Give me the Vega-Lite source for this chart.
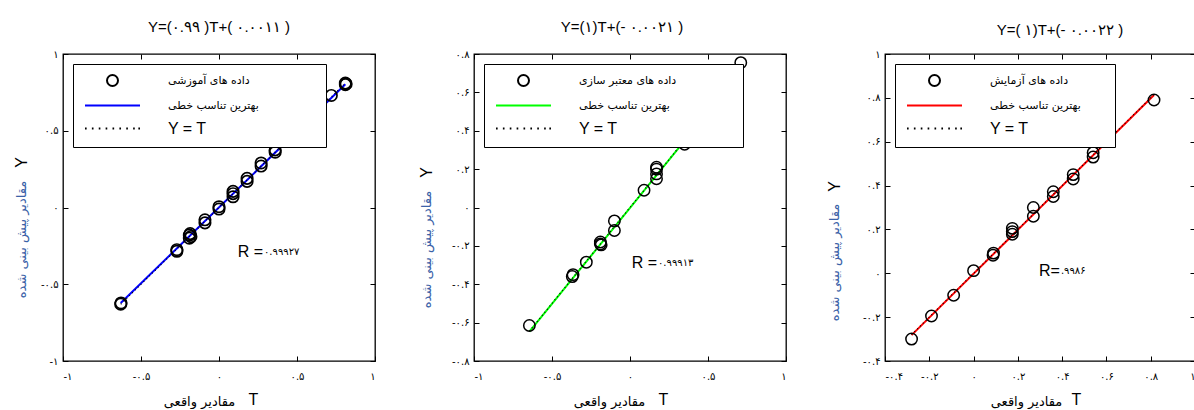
{
  "$schema": "https://vega.github.io/schema/vega-lite/v6.json",
  "background": "white",
  "padding": {"left": 12, "top": 19, "right": 0, "bottom": 0},
  "bounds": "flush",
  "spacing": 99,
  "config": {
    "view": {"stroke": "black", "strokeWidth": 1.3},
    "axis": {"grid": false, "domain": false, "tickSize": -5, "tickColor": "black", "tickWidth": 1, "labelFont": "DejaVu Sans", "labelFontSize": 10, "labelColor": "black", "titleFontWeight": "normal", "titleColor": "black"},
    "title": {"font": "Liberation Sans, DejaVu Sans", "fontSize": 15, "fontWeight": "normal", "color": "black", "anchor": "middle", "offset": 14},
    "legend": {"orient": "top-left", "offset": 10, "fillColor": "white", "strokeColor": "black", "strokeWidth": 1, "padding": 10, "symbolSize": 121, "symbolStrokeWidth": 2, "symbolOffset": 23, "labelOffset": 49, "rowPadding": 9, "labelLimit": 400, "labelFont": {"expr": "datum.label == 'Y = T' ? 'Liberation Sans' : 'DejaVu Sans'"}, "labelFontSize": {"expr": "datum.label == 'Y = T' ? 16 : 11"}, "labelColor": "black", "title": null}
  },
  "resolve": {"scale": {"color": "independent", "shape": "independent", "x": "independent", "y": "independent"}},
  "hconcat": [
    {
      "width": 312, "height": 307,
      "title": {"text": "Y=(۰.۹۹ )T+( ۰.۰۰۱۱ )"},
      "resolve": {"axis": {"x": "independent", "y": "independent"}},
      "layer": [
        {
          "data": {"values": [{"T": -0.63, "Y": -0.6226}, {"T": 0.81, "Y": 0.803}]},
          "mark": {"type": "line", "color": "#0000ff", "strokeWidth": 2},
          "encoding": {
            "x": {"field": "T", "type": "quantitative", "scale": {"domain": [-1, 1], "nice": false, "zero": false}, "axis": {"orient": "top", "labels": false, "title": null, "values": [-1, -0.5, 0, 0.5, 1]}},
            "y": {"field": "Y", "type": "quantitative", "scale": {"domain": [-1, 1], "nice": false, "zero": false}, "axis": {"orient": "right", "labels": false, "title": null, "values": [-1, -0.5, 0, 0.5, 1]}}
          }
        },
        {
          "data": {"values": [{"T": -0.63, "Y": -0.63}, {"T": 0.81, "Y": 0.81}]},
          "mark": {"type": "line", "color": "black", "strokeWidth": 1.2, "strokeDash": [1, 3]},
          "encoding": {
            "x": {"field": "T", "type": "quantitative", "scale": {"domain": [-1, 1], "nice": false, "zero": false}, "axis": {"orient": "bottom", "values": [-1, -0.5, 0, 0.5, 1], "labelPadding": 15, "labelExpr": "replace(replace(replace(replace(replace(replace(replace(''+datum.value,'0','۰'),'1','۱'),'2','۲'),'4','۴'),'5','۵'),'6','۶'),'8','۸')", "title": "T", "titleFont": "Liberation Sans", "titleFontSize": 16, "titleX": 190, "titleY": 38, "titleBaseline": "middle", "titleAlign": "center"}},
            "y": {"field": "Y", "type": "quantitative", "scale": {"domain": [-1, 1], "nice": false, "zero": false}, "axis": {"orient": "left", "values": [-1, -0.5, 0, 0.5, 1], "labelPadding": 10, "labelExpr": "replace(replace(replace(replace(replace(replace(replace(''+datum.value,'0','۰'),'1','۱'),'2','۲'),'4','۴'),'5','۵'),'6','۶'),'8','۸')", "title": "Y", "titleFont": "Liberation Sans", "titleFontSize": 16, "titleX": -42, "titleY": 108, "titleAngle": -90, "titleBaseline": "middle", "titleAlign": "center"}}
          }
        },
        {
          "data": {"values": [
            {"T": -0.63, "Y": -0.63, "series": "داده های آموزشی"},
            {"T": -0.628, "Y": -0.622, "series": "داده های آموزشی"},
            {"T": -0.27, "Y": -0.285, "series": "داده های آموزشی"},
            {"T": -0.27, "Y": -0.275, "series": "داده های آموزشی"},
            {"T": -0.19, "Y": -0.2, "series": "داده های آموزشی"},
            {"T": -0.19, "Y": -0.18, "series": "داده های آموزشی"},
            {"T": -0.185, "Y": -0.17, "series": "داده های آموزشی"},
            {"T": -0.18, "Y": -0.19, "series": "داده های آموزشی"},
            {"T": -0.09, "Y": -0.1, "series": "داده های آموزشی"},
            {"T": -0.09, "Y": -0.08, "series": "داده های آموزشی"},
            {"T": 0.0, "Y": -0.01, "series": "داده های آموزشی"},
            {"T": 0.0, "Y": 0.005, "series": "داده های آموزشی"},
            {"T": 0.09, "Y": 0.07, "series": "داده های آموزشی"},
            {"T": 0.09, "Y": 0.09, "series": "داده های آموزشی"},
            {"T": 0.09, "Y": 0.105, "series": "داده های آموزشی"},
            {"T": 0.18, "Y": 0.17, "series": "داده های آموزشی"},
            {"T": 0.18, "Y": 0.19, "series": "داده های آموزشی"},
            {"T": 0.27, "Y": 0.27, "series": "داده های آموزشی"},
            {"T": 0.27, "Y": 0.29, "series": "داده های آموزشی"},
            {"T": 0.36, "Y": 0.36, "series": "داده های آموزشی"},
            {"T": 0.36, "Y": 0.375, "series": "داده های آموزشی"},
            {"T": 0.45, "Y": 0.45, "series": "داده های آموزشی"},
            {"T": 0.54, "Y": 0.54, "series": "داده های آموزشی"},
            {"T": 0.63, "Y": 0.63, "series": "داده های آموزشی"},
            {"T": 0.72, "Y": 0.73, "series": "داده های آموزشی"},
            {"T": 0.81, "Y": 0.8, "series": "داده های آموزشی"},
            {"T": 0.81, "Y": 0.81, "series": "داده های آموزشی"},
            {"T": 0.815, "Y": 0.805, "series": "داده های آموزشی"}
          ]},
          "mark": {"type": "point", "filled": false, "size": 130, "strokeWidth": 1.7, "opacity": 1},
          "encoding": {
            "x": {"field": "T", "type": "quantitative", "scale": {"domain": [-1, 1], "nice": false, "zero": false}, "axis": {"orient": "bottom", "labels": false, "ticks": false, "domain": false, "title": "مقادیر واقعی", "titleFont": "DejaVu Sans", "titleFontSize": 13, "titleX": 136, "titleY": 40, "titleBaseline": "middle", "titleAlign": "center"}},
            "y": {"field": "Y", "type": "quantitative", "scale": {"domain": [-1, 1], "nice": false, "zero": false}, "axis": {"orient": "left", "labels": false, "ticks": false, "domain": false, "title": "مقادیر پیش بینی شده", "titleFont": "DejaVu Sans", "titleFontSize": 13, "titleColor": "#3b62a8", "titleX": -42, "titleY": 185, "titleAngle": -90, "titleBaseline": "middle", "titleAlign": "center"}},
            "color": {"field": "series", "type": "nominal", "scale": {"domain": ["داده های آموزشی", "بهترین تناسب خطی", "Y = T"], "range": ["black", "#0000ff", "black"]}, "legend": {"zindex": 1, "labelExpr": "datum.label == 'Y = T' ? datum.label : datum.label + '\u2800\u2800\u2800\u2800\u2800\u2800\u2800'"}},
            "shape": {"field": "series", "type": "nominal", "scale": {"domain": ["داده های آموزشی", "بهترین تناسب خطی", "Y = T"], "range": ["M1,0A1,1,0,1,1,-1,0A1,1,0,1,1,1,0Z", "M-5,0H5", "M-5,0h0.3M-3.75,0h0.3M-2.5,0h0.3M-1.25,0h0.3M0,0h0.3M1.25,0h0.3M2.5,0h0.3M3.75,0h0.3M4.7,0h0.3"]}, "legend": {"zindex": 1, "labelExpr": "datum.label == 'Y = T' ? datum.label : datum.label + '\u2800\u2800\u2800\u2800\u2800\u2800\u2800'"}}
          }
        },
        {
          "data": {"values": [{"T": 0.282, "Y": -0.29, "r": "R =", "v": "۰.۹۹۹۲۷"}]},
          "layer": [
            {"mark": {"type": "text", "align": "right", "baseline": "middle", "font": "Liberation Sans", "fontSize": 16, "color": "black"},
             "encoding": {"x": {"field": "T", "type": "quantitative", "scale": {"domain": [-1, 1], "nice": false, "zero": false}, "axis": null}, "y": {"field": "Y", "type": "quantitative", "scale": {"domain": [-1, 1], "nice": false, "zero": false}, "axis": null}, "text": {"field": "r"}}},
            {"mark": {"type": "text", "align": "left", "baseline": "middle", "font": "DejaVu Sans", "fontSize": 10, "color": "black", "dx": 1},
             "encoding": {"x": {"field": "T", "type": "quantitative", "scale": {"domain": [-1, 1], "nice": false, "zero": false}, "axis": null}, "y": {"field": "Y", "type": "quantitative", "scale": {"domain": [-1, 1], "nice": false, "zero": false}, "axis": null}, "text": {"field": "v"}}}
          ]
        }
      ]
    },
    {
      "width": 312, "height": 307,
      "title": {"text": "Y=(۱)T+(- ۰.۰۰۲۱ )", "dx": -8},
      "resolve": {"axis": {"x": "independent", "y": "independent"}},
      "layer": [
        {
          "data": {"values": [{"T": -0.645, "Y": -0.647}, {"T": 0.71, "Y": 0.708}]},
          "mark": {"type": "line", "color": "#00ff00", "strokeWidth": 2},
          "encoding": {
            "x": {"field": "T", "type": "quantitative", "scale": {"domain": [-1, 1], "nice": false, "zero": false}, "axis": {"orient": "top", "labels": false, "title": null, "values": [-1, -0.5, 0, 0.5, 1]}},
            "y": {"field": "Y", "type": "quantitative", "scale": {"domain": [-0.8, 0.8], "nice": false, "zero": false}, "axis": {"orient": "right", "labels": false, "title": null, "values": [-0.8, -0.6, -0.4, -0.2, 0, 0.2, 0.4, 0.6, 0.8]}}
          }
        },
        {
          "data": {"values": [{"T": -0.645, "Y": -0.645}, {"T": 0.71, "Y": 0.71}]},
          "mark": {"type": "line", "color": "black", "strokeWidth": 1.2, "strokeDash": [1, 3]},
          "encoding": {
            "x": {"field": "T", "type": "quantitative", "scale": {"domain": [-1, 1], "nice": false, "zero": false}, "axis": {"orient": "bottom", "values": [-1, -0.5, 0, 0.5, 1], "labelPadding": 15, "labelExpr": "replace(replace(replace(replace(replace(replace(replace(''+datum.value,'0','۰'),'1','۱'),'2','۲'),'4','۴'),'5','۵'),'6','۶'),'8','۸')", "title": "T", "titleFont": "Liberation Sans", "titleFontSize": 16, "titleX": 189, "titleY": 38, "titleBaseline": "middle", "titleAlign": "center"}},
            "y": {"field": "Y", "type": "quantitative", "scale": {"domain": [-0.8, 0.8], "nice": false, "zero": false}, "axis": {"orient": "left", "values": [-0.8, -0.6, -0.4, -0.2, 0, 0.2, 0.4, 0.6, 0.8], "labelPadding": 10, "labelExpr": "replace(replace(replace(replace(replace(replace(replace(''+datum.value,'0','۰'),'1','۱'),'2','۲'),'4','۴'),'5','۵'),'6','۶'),'8','۸')", "title": "Y", "titleFont": "Liberation Sans", "titleFontSize": 16, "titleX": -48, "titleY": 118, "titleAngle": -90, "titleBaseline": "middle", "titleAlign": "center"}}
          }
        },
        {
          "data": {"values": [
            {"T": -0.645, "Y": -0.615, "series": "داده های معتبر سازی"},
            {"T": -0.37, "Y": -0.36, "series": "داده های معتبر سازی"},
            {"T": -0.365, "Y": -0.35, "series": "داده های معتبر سازی"},
            {"T": -0.28, "Y": -0.285, "series": "داده های معتبر سازی"},
            {"T": -0.19, "Y": -0.19, "series": "داده های معتبر سازی"},
            {"T": -0.19, "Y": -0.18, "series": "داده های معتبر سازی"},
            {"T": -0.185, "Y": -0.195, "series": "داده های معتبر سازی"},
            {"T": -0.1, "Y": -0.07, "series": "داده های معتبر سازی"},
            {"T": -0.1, "Y": -0.12, "series": "داده های معتبر سازی"},
            {"T": 0.09, "Y": 0.09, "series": "داده های معتبر سازی"},
            {"T": 0.17, "Y": 0.15, "series": "داده های معتبر سازی"},
            {"T": 0.17, "Y": 0.175, "series": "داده های معتبر سازی"},
            {"T": 0.17, "Y": 0.2, "series": "داده های معتبر سازی"},
            {"T": 0.17, "Y": 0.21, "series": "داده های معتبر سازی"},
            {"T": 0.35, "Y": 0.33, "series": "داده های معتبر سازی"},
            {"T": 0.71, "Y": 0.755, "series": "داده های معتبر سازی"}
          ]},
          "mark": {"type": "point", "filled": false, "size": 130, "strokeWidth": 1.5, "opacity": 1},
          "encoding": {
            "x": {"field": "T", "type": "quantitative", "scale": {"domain": [-1, 1], "nice": false, "zero": false}, "axis": {"orient": "bottom", "labels": false, "ticks": false, "domain": false, "title": "مقادیر واقعی", "titleFont": "DejaVu Sans", "titleFontSize": 13, "titleX": 135, "titleY": 40, "titleBaseline": "middle", "titleAlign": "center"}},
            "y": {"field": "Y", "type": "quantitative", "scale": {"domain": [-0.8, 0.8], "nice": false, "zero": false}, "axis": {"orient": "left", "labels": false, "ticks": false, "domain": false, "title": "مقادیر پیش بینی شده", "titleFont": "DejaVu Sans", "titleFontSize": 13, "titleColor": "#3b62a8", "titleX": -48, "titleY": 195, "titleAngle": -90, "titleBaseline": "middle", "titleAlign": "center"}},
            "color": {"field": "series", "type": "nominal", "scale": {"domain": ["داده های معتبر سازی", "بهترین تناسب خطی", "Y = T"], "range": ["black", "#00ff00", "black"]}, "legend": {"zindex": 1, "labelExpr": "datum.label == 'Y = T' ? datum.label : datum.label + '\u2800\u2800\u2800\u2800\u2800\u2800\u2800'"}},
            "shape": {"field": "series", "type": "nominal", "scale": {"domain": ["داده های معتبر سازی", "بهترین تناسب خطی", "Y = T"], "range": ["M1,0A1,1,0,1,1,-1,0A1,1,0,1,1,1,0Z", "M-5,0H5", "M-5,0h0.3M-3.75,0h0.3M-2.5,0h0.3M-1.25,0h0.3M0,0h0.3M1.25,0h0.3M2.5,0h0.3M3.75,0h0.3M4.7,0h0.3"]}, "legend": {"zindex": 1, "labelExpr": "datum.label == 'Y = T' ? datum.label : datum.label + '\u2800\u2800\u2800\u2800\u2800\u2800\u2800'"}}
          }
        },
        {
          "data": {"values": [{"T": 0.173, "Y": -0.289, "r": "R =", "v": "۰.۹۹۹۱۳"}]},
          "layer": [
            {"mark": {"type": "text", "align": "right", "baseline": "middle", "font": "Liberation Sans", "fontSize": 16, "color": "black"},
             "encoding": {"x": {"field": "T", "type": "quantitative", "scale": {"domain": [-1, 1], "nice": false, "zero": false}, "axis": null}, "y": {"field": "Y", "type": "quantitative", "scale": {"domain": [-0.8, 0.8], "nice": false, "zero": false}, "axis": null}, "text": {"field": "r"}}},
            {"mark": {"type": "text", "align": "left", "baseline": "middle", "font": "DejaVu Sans", "fontSize": 10, "color": "black", "dx": 1},
             "encoding": {"x": {"field": "T", "type": "quantitative", "scale": {"domain": [-1, 1], "nice": false, "zero": false}, "axis": null}, "y": {"field": "Y", "type": "quantitative", "scale": {"domain": [-0.8, 0.8], "nice": false, "zero": false}, "axis": null}, "text": {"field": "v"}}}
          ]
        }
      ]
    },
    {
      "width": 310, "height": 307,
      "title": {"text": "Y=( ۱)T+(- ۰.۰۰۲۲ )", "offset": 11, "dx": 20},
      "resolve": {"axis": {"x": "independent", "y": "independent"}},
      "layer": [
        {
          "data": {"values": [{"T": -0.28, "Y": -0.282}, {"T": 0.815, "Y": 0.813}]},
          "mark": {"type": "line", "color": "#ff0000", "strokeWidth": 2},
          "encoding": {
            "x": {"field": "T", "type": "quantitative", "scale": {"domain": [-0.4, 1], "nice": false, "zero": false}, "axis": {"orient": "top", "labels": false, "title": null, "values": [-0.4, -0.2, 0, 0.2, 0.4, 0.6, 0.8, 1]}},
            "y": {"field": "Y", "type": "quantitative", "scale": {"domain": [-0.4, 1], "nice": false, "zero": false}, "axis": {"orient": "right", "labels": false, "title": null, "values": [-0.4, -0.2, 0, 0.2, 0.4, 0.6, 0.8, 1]}}
          }
        },
        {
          "data": {"values": [{"T": -0.28, "Y": -0.28}, {"T": 0.815, "Y": 0.815}]},
          "mark": {"type": "line", "color": "black", "strokeWidth": 1.2, "strokeDash": [1, 3]},
          "encoding": {
            "x": {"field": "T", "type": "quantitative", "scale": {"domain": [-0.4, 1], "nice": false, "zero": false}, "axis": {"orient": "bottom", "values": [-0.4, -0.2, 0, 0.2, 0.4, 0.6, 0.8, 1], "labelPadding": 15, "labelExpr": "replace(replace(replace(replace(replace(replace(replace(''+datum.value,'0','۰'),'1','۱'),'2','۲'),'4','۴'),'5','۵'),'6','۶'),'8','۸')", "title": "T", "titleFont": "Liberation Sans", "titleFontSize": 16, "titleX": 191, "titleY": 38, "titleBaseline": "middle", "titleAlign": "center"}},
            "y": {"field": "Y", "type": "quantitative", "scale": {"domain": [-0.4, 1], "nice": false, "zero": false}, "axis": {"orient": "left", "values": [-0.4, -0.2, 0, 0.2, 0.4, 0.6, 0.8, 1], "labelPadding": 10, "labelExpr": "replace(replace(replace(replace(replace(replace(replace(''+datum.value,'0','۰'),'1','۱'),'2','۲'),'4','۴'),'5','۵'),'6','۶'),'8','۸')", "title": "Y", "titleFont": "Liberation Sans", "titleFontSize": 16, "titleX": -51, "titleY": 132, "titleAngle": -90, "titleBaseline": "middle", "titleAlign": "center"}}
          }
        },
        {
          "data": {"values": [
            {"T": -0.28, "Y": -0.3, "series": "داده های آزمایش"},
            {"T": -0.19, "Y": -0.195, "series": "داده های آزمایش"},
            {"T": -0.09, "Y": -0.1, "series": "داده های آزمایش"},
            {"T": 0.0, "Y": 0.012, "series": "داده های آزمایش"},
            {"T": 0.088, "Y": 0.082, "series": "داده های آزمایش"},
            {"T": 0.09, "Y": 0.092, "series": "داده های آزمایش"},
            {"T": 0.175, "Y": 0.178, "series": "داده های آزمایش"},
            {"T": 0.175, "Y": 0.19, "series": "داده های آزمایش"},
            {"T": 0.175, "Y": 0.205, "series": "داده های آزمایش"},
            {"T": 0.27, "Y": 0.26, "series": "داده های آزمایش"},
            {"T": 0.27, "Y": 0.3, "series": "داده های آزمایش"},
            {"T": 0.36, "Y": 0.35, "series": "داده های آزمایش"},
            {"T": 0.36, "Y": 0.372, "series": "داده های آزمایش"},
            {"T": 0.45, "Y": 0.43, "series": "داده های آزمایش"},
            {"T": 0.45, "Y": 0.45, "series": "داده های آزمایش"},
            {"T": 0.54, "Y": 0.53, "series": "داده های آزمایش"},
            {"T": 0.54, "Y": 0.55, "series": "داده های آزمایش"},
            {"T": 0.815, "Y": 0.79, "series": "داده های آزمایش"}
          ]},
          "mark": {"type": "point", "filled": false, "size": 130, "strokeWidth": 1.5, "opacity": 1},
          "encoding": {
            "x": {"field": "T", "type": "quantitative", "scale": {"domain": [-0.4, 1], "nice": false, "zero": false}, "axis": {"orient": "bottom", "labels": false, "ticks": false, "domain": false, "title": "مقادیر واقعی", "titleFont": "DejaVu Sans", "titleFontSize": 13, "titleX": 141, "titleY": 40, "titleBaseline": "middle", "titleAlign": "center"}},
            "y": {"field": "Y", "type": "quantitative", "scale": {"domain": [-0.4, 1], "nice": false, "zero": false}, "axis": {"orient": "left", "labels": false, "ticks": false, "domain": false, "title": "مقادیر پیش بینی شده", "titleFont": "DejaVu Sans", "titleFontSize": 13, "titleColor": "#3b62a8", "titleX": -51, "titleY": 208, "titleAngle": -90, "titleBaseline": "middle", "titleAlign": "center"}},
            "color": {"field": "series", "type": "nominal", "scale": {"domain": ["داده های آزمایش", "بهترین تناسب خطی", "Y = T"], "range": ["black", "#ff0000", "black"]}, "legend": {"zindex": 1, "labelExpr": "datum.label == 'Y = T' ? datum.label : datum.label + '\u2800\u2800\u2800'"}},
            "shape": {"field": "series", "type": "nominal", "scale": {"domain": ["داده های آزمایش", "بهترین تناسب خطی", "Y = T"], "range": ["M1,0A1,1,0,1,1,-1,0A1,1,0,1,1,1,0Z", "M-5,0H5", "M-5,0h0.3M-3.75,0h0.3M-2.5,0h0.3M-1.25,0h0.3M0,0h0.3M1.25,0h0.3M2.5,0h0.3M3.75,0h0.3M4.7,0h0.3"]}, "legend": {"zindex": 1, "labelExpr": "datum.label == 'Y = T' ? datum.label : datum.label + '\u2800\u2800\u2800'"}}
          }
        },
        {
          "data": {"values": [{"T": 0.39, "Y": 0.01, "r": "R=", "v": " .۹۹۸۶"}]},
          "layer": [
            {"mark": {"type": "text", "align": "right", "baseline": "middle", "font": "Liberation Sans", "fontSize": 16, "color": "black"},
             "encoding": {"x": {"field": "T", "type": "quantitative", "scale": {"domain": [-0.4, 1], "nice": false, "zero": false}, "axis": null}, "y": {"field": "Y", "type": "quantitative", "scale": {"domain": [-0.4, 1], "nice": false, "zero": false}, "axis": null}, "text": {"field": "r"}}},
            {"mark": {"type": "text", "align": "left", "baseline": "middle", "font": "DejaVu Sans", "fontSize": 10, "color": "black", "dx": 1},
             "encoding": {"x": {"field": "T", "type": "quantitative", "scale": {"domain": [-0.4, 1], "nice": false, "zero": false}, "axis": null}, "y": {"field": "Y", "type": "quantitative", "scale": {"domain": [-0.4, 1], "nice": false, "zero": false}, "axis": null}, "text": {"field": "v"}}}
          ]
        }
      ]
    }
  ]
}
